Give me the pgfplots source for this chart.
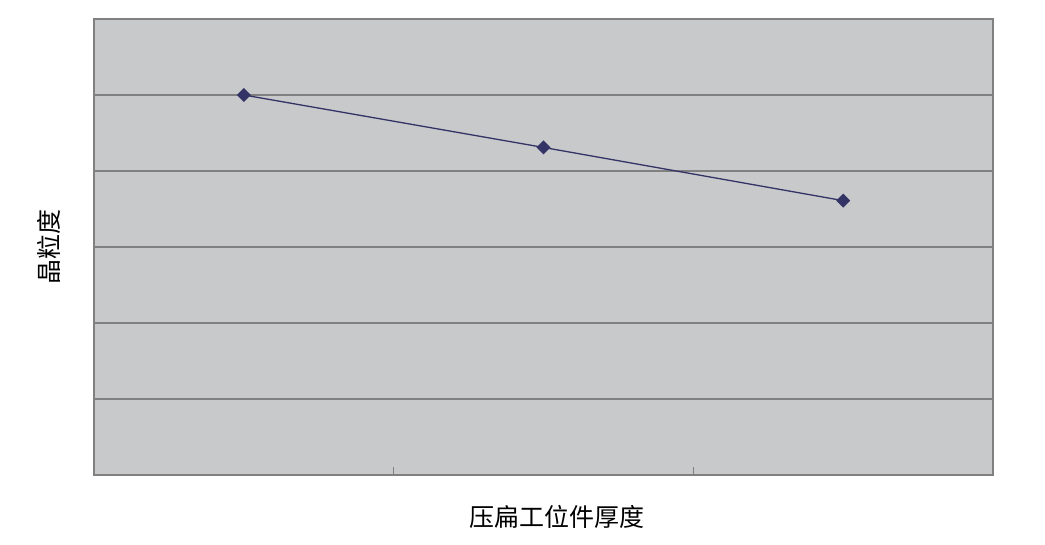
\documentclass[border=0pt]{standalone}
\usepackage{fontspec}
\usepackage{pgfplots}
\pgfplotsset{compat=1.18}
\newfontfamily\cjk{Noto Sans CJK SC}
\definecolor{plotbg}{HTML}{C8C9CB}
\definecolor{gridc}{HTML}{808080}
\definecolor{navy}{HTML}{333366}

\begin{document}
\begin{tikzpicture}[x=1pt,y=1pt]
  \begin{axis}[
    at={(0,0)}, anchor=south west,
    scale only axis,
    width=899pt, height=456pt,
    xmin=-0.5, xmax=2.5,
    ymin=0, ymax=6,
    axis background/.style={fill=plotbg},
    axis line style={gridc, line width=1.2pt},
    xtick={0.5,1.5},
    xticklabels={},
    xtick pos=lower,
    tick align=inside,
    major tick length=8pt,
    xtick style={gridc, line width=1pt},
    ytick={1,2,3,4,5},
    yticklabels={},
    ytick style={draw=none},
    ymajorgrids,
    grid style={gridc, line width=1.2pt},
    clip=false,
  ]
    \addplot[navy, line width=1.3pt, mark=square*, mark size=4.3pt,
      mark options={fill=navy, draw=navy, rotate=45}]
      coordinates {(0,5.0) (1,4.31) (2,3.61)};
  \end{axis}
  % labels
  \node[font=\cjk\fontsize{25}{25}\selectfont] at (463,-42) {压扁工位件厚度};
  \node[font=\cjk\fontsize{25}{25}\selectfont, rotate=90] at (-45,228) {晶粒度};
  % page extent
  \path[use as bounding box] (-94,-70) rectangle (951,475);
\end{tikzpicture}
\end{document}
